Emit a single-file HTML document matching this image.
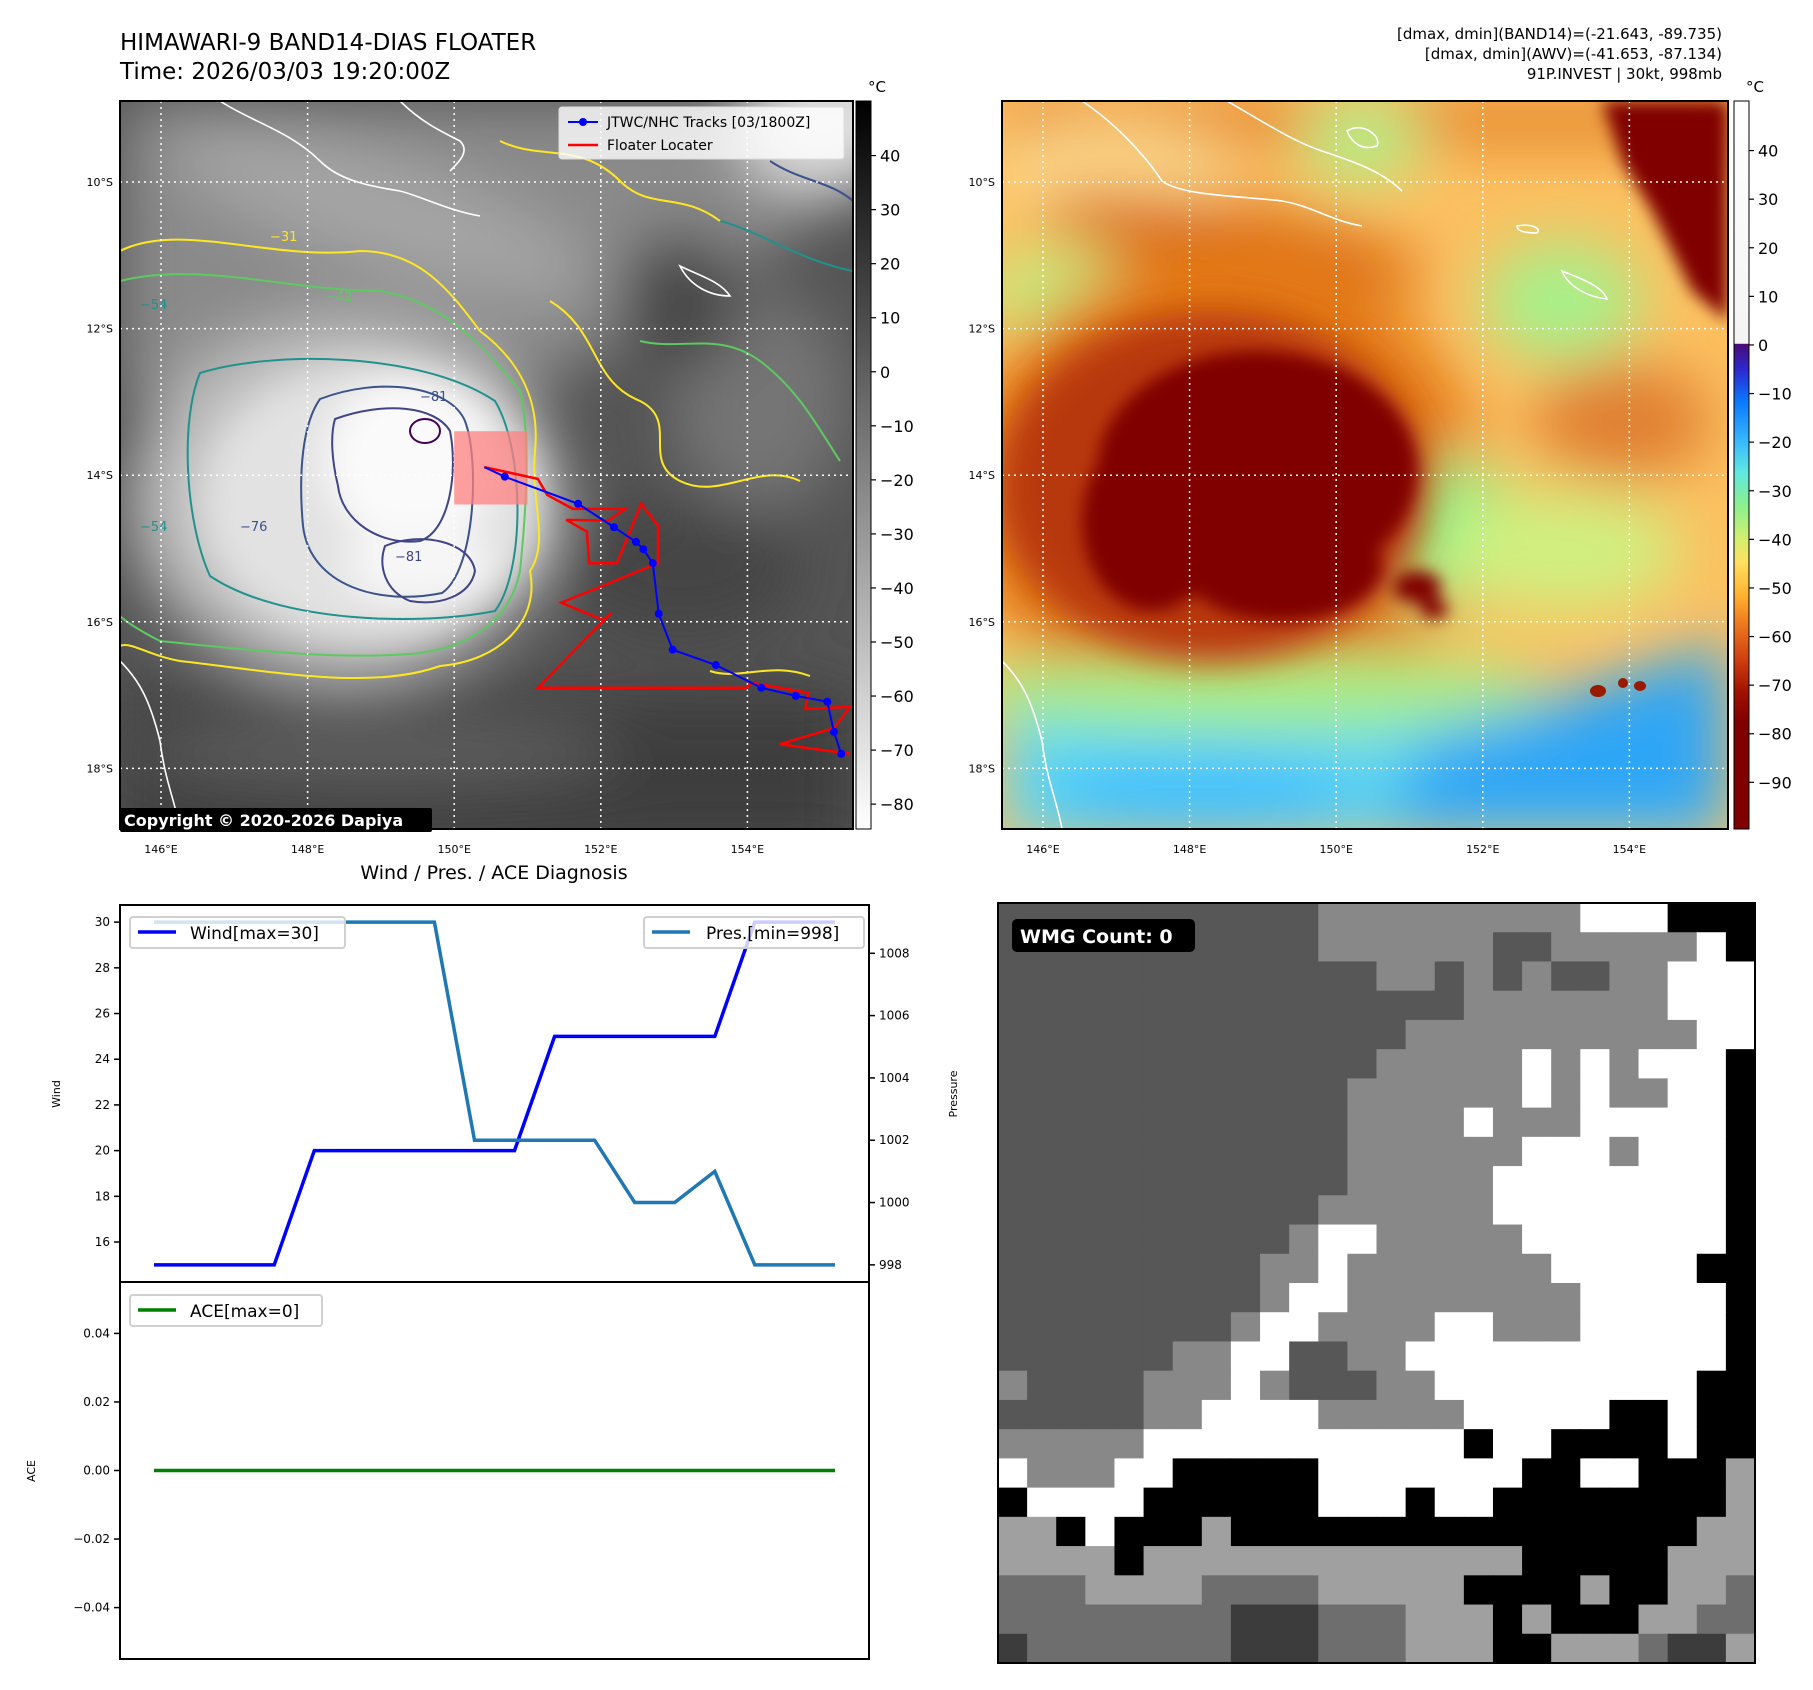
<!DOCTYPE html>
<html><head><meta charset="utf-8">
<style>
html,body{margin:0;padding:0;background:#fff;}
svg{display:block;font-family:"DejaVu Sans","Liberation Sans",sans-serif;}
</style></head>
<body>
<svg id="fig" width="1813" height="1690" viewBox="0 0 1813 1690" xmlns="http://www.w3.org/2000/svg">
<defs>
  <filter id="b30" x="-30%" y="-30%" width="160%" height="160%"><feGaussianBlur stdDeviation="30"/></filter>
  <filter id="b18" x="-30%" y="-30%" width="160%" height="160%"><feGaussianBlur stdDeviation="18"/></filter>
  <filter id="b8" x="-30%" y="-30%" width="160%" height="160%"><feGaussianBlur stdDeviation="8"/></filter>
  <clipPath id="clipL"><rect x="0" y="0" width="733" height="728"/></clipPath>
  <clipPath id="clipR"><rect x="0" y="0" width="726" height="728"/></clipPath>
  <linearGradient id="cbGray" x1="0" y1="0" x2="0" y2="1">
    <stop offset="0" stop-color="#000"/><stop offset="1" stop-color="#fff"/>
  </linearGradient>
  <linearGradient id="cbColor" x1="0" y1="0" x2="0" y2="1">
    <stop offset="0" stop-color="#ffffff"/>
    <stop offset="0.333" stop-color="#f4f4f4"/>
    <stop offset="0.334" stop-color="#4b0a78"/>
    <stop offset="0.37" stop-color="#2a2ad0"/>
    <stop offset="0.413" stop-color="#0a78ff"/>
    <stop offset="0.467" stop-color="#38b8ff"/>
    <stop offset="0.51" stop-color="#60e8e0"/>
    <stop offset="0.553" stop-color="#88f090"/>
    <stop offset="0.6" stop-color="#d0f070"/>
    <stop offset="0.633" stop-color="#ffe060"/>
    <stop offset="0.68" stop-color="#ffb030"/>
    <stop offset="0.713" stop-color="#f08020"/>
    <stop offset="0.767" stop-color="#d04010"/>
    <stop offset="0.813" stop-color="#a01000"/>
    <stop offset="0.853" stop-color="#800000"/>
    <stop offset="1" stop-color="#800000"/>
  </linearGradient>
</defs>

<text x="120" y="50" font-size="23">HIMAWARI-9 BAND14-DIAS FLOATER</text>
<text x="120" y="79" font-size="23">Time: 2026/03/03 19:20:00Z</text>
<g font-size="15" text-anchor="end">
  <text x="1722" y="39">[dmax, dmin](BAND14)=(-21.643, -89.735)</text>
  <text x="1722" y="59">[dmax, dmin](AWV)=(-41.653, -87.134)</text>
  <text x="1722" y="79">91P.INVEST | 30kt, 998mb</text>
</g>

<!-- LEFT MAP -->
<g id="mapL" transform="translate(120,101)">
  <g clip-path="url(#clipL)">
    <rect x="0" y="0" width="733" height="728" fill="#545454"/>
    <g filter="url(#b30)">
      <polygon points="0,0 733,0 733,90 620,170 430,280 0,300" fill="#8a8a8a"/>
      <ellipse cx="260" cy="110" rx="220" ry="55" fill="#a4a4a4" transform="rotate(18 260 110)"/>
      <ellipse cx="640" cy="300" rx="90" ry="110" fill="#757575"/>
      <ellipse cx="560" cy="200" rx="60" ry="70" fill="#474747"/>
      <ellipse cx="225" cy="400" rx="215" ry="180" fill="#c0c0c0"/>
      <rect x="0" y="590" width="733" height="160" fill="#3e3e3e"/>
      <ellipse cx="260" cy="650" rx="240" ry="35" fill="#5e5e5e"/>
      <ellipse cx="710" cy="20" rx="90" ry="70" fill="#e0e0e0"/>
      <ellipse cx="560" cy="470" rx="120" ry="70" fill="#444"/>
    </g>
    <g filter="url(#b18)">
      <ellipse cx="250" cy="400" rx="170" ry="140" fill="#e2e2e2"/>
      <ellipse cx="290" cy="360" rx="85" ry="85" fill="#fafafa"/>
      <ellipse cx="300" cy="465" rx="75" ry="40" fill="#f6f6f6"/>
    </g>
    <g fill="none" stroke-width="2" stroke-linejoin="round">
      <path d="M0,150 C60,120 150,160 240,150 C300,150 330,190 360,230 C400,260 420,300 415,350 C410,400 430,440 410,470 C420,520 380,560 320,565 C250,590 150,570 60,560 C30,555 10,540 0,545" stroke="#fde725"/>
      <path d="M0,180 C80,160 170,190 260,190 C320,200 360,240 400,290 C412,340 405,420 400,470 C390,520 350,545 300,552 C220,560 120,548 40,540 C20,530 5,520 0,515" stroke="#5ec962"/>
      <path d="M80,272 C150,250 300,250 375,300 C405,350 405,470 375,510 C300,525 160,522 90,475 C65,420 60,320 80,272Z" stroke="#21918c"/>
      <path d="M200,298 C260,275 330,285 345,320 C360,360 355,470 322,492 C260,505 190,485 183,425 C178,370 183,322 200,298Z" stroke="#3b528b"/>
      <path d="M215,318 C265,300 315,305 330,330 C338,370 330,430 300,440 C260,445 222,420 218,385 C212,360 210,335 215,318Z" stroke="#414487"/>
      <path d="M265,445 C300,430 350,440 355,470 C350,495 320,505 290,500 C265,490 258,465 265,445Z" stroke="#414487"/>
      <ellipse cx="305" cy="330" rx="15" ry="12" stroke="#440154"/>
      <path d="M430,200 C480,230 470,280 520,300 C560,320 520,360 560,380 C600,400 640,360 680,380" stroke="#fde725"/>
      <path d="M520,240 C560,250 600,230 640,260 C680,290 700,330 720,360" stroke="#5ec962"/>
      <path d="M600,120 C640,130 680,160 733,170" stroke="#21918c"/>
      <path d="M650,60 C680,80 710,80 733,100" stroke="#3b528b"/>
      <path d="M380,40 C420,60 460,40 500,80 C530,110 560,90 600,120" stroke="#fde725"/>
      <path d="M590,570 C620,580 650,560 690,575" stroke="#fde725"/>
    </g>
    <g font-size="13">
      <text x="20" y="208" fill="#21918c">−54</text>
      <text x="150" y="140" fill="#fde725">−31</text>
      <text x="205" y="200" fill="#5ec962">−42</text>
      <text x="300" y="300" fill="#3b528b">−81</text>
      <text x="275" y="460" fill="#414487">−81</text>
      <text x="120" y="430" fill="#3b528b">−76</text>
      <text x="20" y="430" fill="#21918c">−54</text>
    </g>
    <g fill="none" stroke="#fff" stroke-width="1.6">
      <path d="M0,560 C20,580 30,600 40,640 C45,680 55,700 60,728"/>
      <path d="M100,0 C130,20 170,30 200,60 C220,80 250,85 280,90 C300,95 330,110 360,115"/>
      <path d="M280,0 C300,20 320,30 340,40 C350,50 340,60 330,70"/>
      <path d="M560,165 C580,175 600,180 610,195 C590,195 570,185 560,165Z"/>
    </g>
    <g id="gridL" stroke="#fff" stroke-width="1.5" stroke-dasharray="2,4"></g>
    <rect id="floaterBox" fill="#ff8080" fill-opacity="0.75"/>
    <path id="redPath" fill="none" stroke="#ff0000" stroke-width="2.5" stroke-linejoin="miter"/>
    <path id="bluePath" fill="none" stroke="#0000ff" stroke-width="2"/>
    <g id="blueDots" fill="#0000ff"></g>
  </g>
  <rect x="0" y="0" width="733" height="728" fill="none" stroke="#000" stroke-width="2"/>
  <g>
    <rect x="439" y="6" width="285" height="52" rx="3" fill="#fff" fill-opacity="0.8" stroke="#ddd"/>
    <line x1="448" y1="21" x2="478" y2="21" stroke="#0000ff" stroke-width="2"/>
    <circle cx="463" cy="21" r="4" fill="#0000ff"/>
    <text x="487" y="26" font-size="14">JTWC/NHC Tracks [03/1800Z]</text>
    <line x1="448" y1="44" x2="478" y2="44" stroke="#ff0000" stroke-width="2.5"/>
    <text x="487" y="49" font-size="14">Floater Locater</text>
  </g>
  <g>
    <rect x="0" y="707" width="312" height="24" rx="2" fill="#000"/>
    <text x="4" y="725" font-size="16" font-weight="bold" fill="#fff">Copyright © 2020-2026 Dapiya</text>
  </g>
</g>
<g id="ticksL" font-size="11"></g>

<g>
  <rect x="856" y="101" width="15" height="728" fill="url(#cbGray)" stroke="#000" stroke-width="1"/>
  <text x="868" y="92" font-size="15">°C</text>
  <g id="cbTicksL" font-size="16"></g>
</g>

<!-- RIGHT MAP -->
<g id="mapR" transform="translate(1002,101)">
  <g clip-path="url(#clipR)">
    <rect x="0" y="0" width="726" height="728" fill="#fcc060"/>
    <g filter="url(#b30)">
      <rect x="0" y="0" width="726" height="40" fill="#e07a20"/>
      <ellipse cx="110" cy="70" rx="120" ry="45" fill="#ffe090"/>
      <ellipse cx="60" cy="190" rx="80" ry="40" fill="#c0f080"/>
      <ellipse cx="560" cy="200" rx="80" ry="60" fill="#a8f08a"/>
      <ellipse cx="360" cy="40" rx="60" ry="40" fill="#b0f088"/>
      <ellipse cx="620" cy="320" rx="90" ry="60" fill="#e08030"/>
      <ellipse cx="230" cy="140" rx="200" ry="40" fill="#dc6e18" transform="rotate(10 230 140)"/>
      <ellipse cx="220" cy="390" rx="260" ry="240" fill="#e47a18"/>
      <ellipse cx="450" cy="430" rx="70" ry="70" fill="#90f088"/>
      <ellipse cx="560" cy="450" rx="120" ry="60" fill="#d0f080"/>
      <rect x="0" y="600" width="726" height="140" fill="#60d8f0"/>
      <ellipse cx="250" cy="590" rx="300" ry="40" fill="#a8f080"/>
      <polygon points="420,640 726,540 726,728 380,728" fill="#2ea6f6"/>
      <ellipse cx="200" cy="690" rx="160" ry="40" fill="#40c0ff"/>
    </g>
    <g filter="url(#b18)">
      <ellipse cx="210" cy="385" rx="215" ry="175" fill="#b83808"/>
    </g>
    <g filter="url(#b8)">
      <ellipse cx="255" cy="370" rx="160" ry="120" fill="#800000"/>
      <ellipse cx="280" cy="465" rx="100" ry="55" fill="#800000"/>
      <ellipse cx="150" cy="420" rx="70" ry="90" fill="#800000"/>
      <polygon points="600,0 726,0 726,220 690,190 650,110 620,60" fill="#800000"/>
      <ellipse cx="415" cy="486" rx="24" ry="16" fill="#800000"/>
      <ellipse cx="432" cy="508" rx="14" ry="10" fill="#800000"/>
    </g>
    <g fill="#9a1a00">
      <ellipse cx="596" cy="590" rx="8" ry="6"/>
      <ellipse cx="621" cy="582" rx="5" ry="5"/>
      <ellipse cx="638" cy="585" rx="6" ry="5"/>
    </g>
    <g fill="none" stroke="#fff" stroke-width="1.6">
      <path d="M80,0 C110,20 140,50 160,80 C180,95 240,95 280,100 C310,105 330,120 360,125"/>
      <path d="M225,0 C260,20 290,40 320,50 C350,60 380,70 400,90"/>
      <path d="M345,30 C360,20 380,35 375,45 C360,50 350,42 345,30Z"/>
      <path d="M560,170 C580,178 600,185 605,198 C585,196 566,185 560,170Z"/>
      <path d="M515,125 C530,122 540,128 535,132 C522,132 515,130 515,125Z"/>
      <path d="M0,560 C20,580 30,600 40,640 C45,680 55,700 60,728"/>
    </g>
    <g id="gridR" stroke="#fff" stroke-width="1.5" stroke-dasharray="2,4"></g>
  </g>
  <rect x="0" y="0" width="726" height="728" fill="none" stroke="#000" stroke-width="2"/>
</g>
<g id="ticksR" font-size="11"></g>

<g>
  <rect x="1734" y="101" width="15" height="728" fill="url(#cbColor)" stroke="#000" stroke-width="1"/>
  <text x="1746" y="92" font-size="15">°C</text>
  <g id="cbTicksR" font-size="16"></g>
</g>

<text x="494" y="879" font-size="19" text-anchor="middle">Wind / Pres. / ACE Diagnosis</text>
<g id="windChart"></g>
<g id="aceChart"></g>

<g id="wmg"></g>
</svg>

<script>
const latTicks = [-10, -12, -14, -16, -18];
const lonTicks = [146, 148, 150, 152, 154];
const trackLon = [150.41,150.69,151.69,152.18,152.48,152.58,152.71,152.79,152.98,153.57,154.19,154.66,155.09,155.18,155.28];
const trackLat = [-13.89,-14.02,-14.39,-14.71,-14.91,-15.01,-15.20,-15.89,-16.38,-16.59,-16.90,-17.01,-17.09,-17.50,-17.80];
const locLon = [150.41,151.14,151.27,151.62,152.33,152.10,151.53,151.81,151.84,152.22,152.55,152.78,152.78,151.46,152.04,152.14,151.14,153.99,154.05,154.83,154.79,155.40,155.18,154.44,155.40];
const locLat = [-13.89,-14.05,-14.27,-14.46,-14.46,-14.62,-14.61,-14.77,-15.20,-15.20,-14.39,-14.69,-15.20,-15.74,-15.98,-15.88,-16.90,-16.90,-16.83,-16.97,-17.19,-17.16,-17.45,-17.67,-17.80];
const floaterLon = [150.0, 151.0];
const floaterLat = [-13.4, -14.4];
const cbTicksGray = [40,30,20,10,0,-10,-20,-30,-40,-50,-60,-70,-80];
const cbTicksColor = [40,30,20,10,0,-10,-20,-30,-40,-50,-60,-70,-80,-90];
const windVals = [15,15,15,15,20,20,20,20,20,20,25,25,25,25,25,30,30,30];
const presVals = [1009,1009,1009,1009,1009,1009,1009,1009,1002,1002,1002,1002,1000,1000,1001,998,998,998];
const aceVals = [0,0,0,0,0,0,0,0,0,0,0,0,0,0,0,0,0,0];
const windTicks = [16,18,20,22,24,26,28,30];
const presTicks = [998,1000,1002,1004,1006,1008];
const aceTicks = [0.04,0.02,0.00,-0.02,-0.04];
const wmgRows = [
"DDDDDDDDDDDMMMMMMMMMWWWKKK",
"DDDDDDDDDDDMMMMMMDDMMMMMWK",
"DDDDDDDDDDDDDMMDMDMDDMMWWW",
"DDDDDDDDDDDDDDDDMMMMMMMWWW",
"DDDDDDDDDDDDDDMMMMMMMMMMWW",
"DDDDDDDDDDDDDMMMMMWMWMWWWK",
"DDDDDDDDDDDDMMMMMMWMWMMWWK",
"DDDDDDDDDDDDMMMMWMMMWWWWWK",
"DDDDDDDDDDDDMMMMMMWWWMWWWK",
"DDDDDDDDDDDDMMMMMWWWWWWWWK",
"DDDDDDDDDDDMMMMMMWWWWWWWWK",
"DDDDDDDDDDMWWMMMMMWWWWWWWK",
"DDDDDDDDDMMWMMMMMMMWWWWWKK",
"DDDDDDDDDMWWMMMMMMMMWWWWWK",
"DDDDDDDDMWWMMMMWWMMMWWWWWK",
"DDDDDDMMWWDDMMWWWWWWWWWWWK",
"MDDDDMMMWMDDDMMWWWWWWWWWKK",
"DDDDDMMWWWWMMMMMWWWWWKKWKK",
"MMMMMWWWWWWWWWWWKWWKKKKWKK",
"WMMMWWKKKKKWWWWWWWKKWWKKKL",
"KWWWWKKKKKKWWWKWWKKKKKKKKL",
"LLKWKKKLKKKKKKKKKKKKKKKKLL",
"LLLLKLLLLLLLLLLLLLKKKKKLLL",
"GGGLLLLGGGGLLLLLKKKKLKKLLG",
"GGGGGGGGXXXGGGLLLKLKKKLLGG",
"XGGGGGGGXXXGGGLLLKKLLLGXXL"
];
const wmgColors = {D:'#575757', M:'#888888', W:'#ffffff', K:'#000000', L:'#a0a0a0', G:'#6e6e6e', X:'#3c3c3c'};

const NS = 'http://www.w3.org/2000/svg';
function mk(tag, attrs, parent){ const e=document.createElementNS(NS,tag); for(const k in attrs) e.setAttribute(k,attrs[k]); if(parent) parent.appendChild(e); return e; }
const PXDEG = 73.3;
function mx(lon){ return 41 + (lon-146)*PXDEG; }
function my(lat){ return 81 + (-10-lat)*PXDEG; }

function buildGrid(gid, w){
  const g=document.getElementById(gid);
  latTicks.forEach(lat=>{ const l=mk('line',{x1:0,x2:w,y1:my(lat),y2:my(lat)},g);
    
     });
  lonTicks.forEach(lon=>{ const l=mk('line',{x1:mx(lon),x2:mx(lon),y1:0,y2:728},g);
    
     });
}
buildGrid('gridL',733); buildGrid('gridR',726);
function buildTicks(tid, ox){
  const g=document.getElementById(tid);
  latTicks.forEach(lat=>{ const t=mk('text',{x:ox-7,y:101+my(lat)+4,'text-anchor':'end'},g);
    t.textContent=Math.abs(lat)+'°S';
    
     });
  lonTicks.forEach(lon=>{ const t=mk('text',{x:ox+mx(lon),y:853,'text-anchor':'middle'},g);
    t.textContent=lon+'°E';
    
     });
}
buildTicks('ticksL',120); buildTicks('ticksR',1002);

(function(){
  let d=''; trackLon.forEach((lo,i)=>{ d+=(i?'L':'M')+mx(lo).toFixed(1)+','+my(trackLat[i]).toFixed(1); });
  document.getElementById('bluePath').setAttribute('d',d);
  const dots=document.getElementById('blueDots');
  trackLon.forEach((lo,i)=>{ if(i===0) return; const c=mk('circle',{cx:mx(lo),cy:my(trackLat[i]),r:4},dots);
    
     });
  let r=''; locLon.forEach((lo,i)=>{ r+=(i?'L':'M')+mx(lo).toFixed(1)+','+my(locLat[i]).toFixed(1); });
  document.getElementById('redPath').setAttribute('d',r);
  const fb=document.getElementById('floaterBox');
  fb.setAttribute('x',mx(floaterLon[0])); fb.setAttribute('y',my(floaterLat[0]));
  fb.setAttribute('width',mx(floaterLon[1])-mx(floaterLon[0])); fb.setAttribute('height',my(floaterLat[1])-my(floaterLat[0]));
})();

function buildCb(gid, vals, vmax, vmin, x){
  const g=document.getElementById(gid);
  vals.forEach(v=>{ const y=101+(vmax-v)/(vmax-vmin)*728;
    mk('line',{x1:x,x2:x+5,y1:y,y2:y,stroke:'#000','stroke-width':1.2},g);
    const t=mk('text',{x:x+9,y:y+6},g); t.textContent=(v<0?'−'+Math.abs(v):''+v);
    
     });
}
buildCb('cbTicksL', cbTicksGray, 50.1, -84.6, 871);
buildCb('cbTicksR', cbTicksColor, 50.2, -99.6, 1749);

const AX={l:120,r:869,t:905,m:1282,b:1659};
const n=windVals.length;
function cx(i){ const lo=-0.05*(n-1), hi=(n-1)*1.05; return AX.l+(i-lo)/(hi-lo)*(AX.r-AX.l); }
function wy(v){ const lo=14.25, hi=30.75; return AX.m-(v-lo)/(hi-lo)*(AX.m-AX.t); }
function py(v){ const lo=997.45, hi=1009.55; return AX.m-(v-lo)/(hi-lo)*(AX.m-AX.t); }
function ay(v){ const lo=-0.055, hi=0.055; return AX.b-(v-lo)/(hi-lo)*(AX.b-AX.m); }
(function(){
  const g=document.getElementById('windChart');
  mk('rect',{x:AX.l,y:AX.t,width:AX.r-AX.l,height:AX.m-AX.t,fill:'#fff',stroke:'#000','stroke-width':2},g);
  let d=''; windVals.forEach((v,i)=>{ d+=(i?'L':'M')+cx(i).toFixed(1)+','+wy(v).toFixed(1); });
  const wl=mk('path',{d:d,fill:'none',stroke:'#0000ff','stroke-width':3.5},g);
  
  
  let p=''; presVals.forEach((v,i)=>{ p+=(i?'L':'M')+cx(i).toFixed(1)+','+py(v).toFixed(1); });
  const pl=mk('path',{d:p,fill:'none',stroke:'#1f77b4','stroke-width':3.5},g);
  
  
  windTicks.forEach(v=>{ const y=wy(v); mk('line',{x1:AX.l-6,x2:AX.l,y1:y,y2:y,stroke:'#000','stroke-width':1.5},g);
    const t=mk('text',{x:AX.l-10,y:y+4,'text-anchor':'end','font-size':12},g); t.textContent=v;
    
     });
  presTicks.forEach(v=>{ const y=py(v); mk('line',{x1:AX.r,x2:AX.r+6,y1:y,y2:y,stroke:'#000','stroke-width':1.5},g);
    const t=mk('text',{x:AX.r+10,y:y+4,'font-size':12},g); t.textContent=v;
    
     });
  const yl=mk('text',{x:0,y:0,'font-size':11,'text-anchor':'middle',transform:'translate(60,1094) rotate(-90)'},g); yl.textContent='Wind';
  
  
  const pl2=mk('text',{x:0,y:0,'font-size':11,'text-anchor':'middle',transform:'translate(957,1094) rotate(-90)'},g); pl2.textContent='Pressure';
  
  
  const lg1=mk('g',{},g);
  
  
  mk('rect',{x:130,y:917,width:215,height:31,rx:3,fill:'#fff','fill-opacity':0.8,stroke:'#d0d0d0','stroke-width':2},lg1);
  mk('line',{x1:138,x2:176,y1:932,y2:932,stroke:'#0000ff','stroke-width':3.5},lg1);
  const t1=mk('text',{x:190,y:939,'font-size':17},lg1); t1.textContent='Wind[max=30]';
  const lg2=mk('g',{},g);
  
  
  mk('rect',{x:644,y:917,width:220,height:31,rx:3,fill:'#fff','fill-opacity':0.8,stroke:'#d0d0d0','stroke-width':2},lg2);
  mk('line',{x1:652,x2:690,y1:932,y2:932,stroke:'#1f77b4','stroke-width':3.5},lg2);
  const t2=mk('text',{x:706,y:939,'font-size':17},lg2); t2.textContent='Pres.[min=998]';
})();

(function(){
  const g=document.getElementById('aceChart');
  mk('rect',{x:AX.l,y:AX.m,width:AX.r-AX.l,height:AX.b-AX.m,fill:'#fff',stroke:'#000','stroke-width':2},g);
  let d=''; aceVals.forEach((v,i)=>{ d+=(i?'L':'M')+cx(i).toFixed(1)+','+ay(v).toFixed(1); });
  const al=mk('path',{d:d,fill:'none',stroke:'#008000','stroke-width':3.5},g);
  
  
  aceTicks.forEach(v=>{ const y=ay(v); mk('line',{x1:AX.l-6,x2:AX.l,y1:y,y2:y,stroke:'#000','stroke-width':1.5},g);
    const t=mk('text',{x:AX.l-10,y:y+4,'text-anchor':'end','font-size':12},g); t.textContent=(v<0?'−'+Math.abs(v).toFixed(2):v.toFixed(2));
    
     });
  const yl=mk('text',{x:0,y:0,'font-size':11,'text-anchor':'middle',transform:'translate(35,1471) rotate(-90)'},g); yl.textContent='ACE';
  
  
  const lg=mk('g',{},g);
  
  
  mk('rect',{x:130,y:1295,width:192,height:31,rx:3,fill:'#fff','fill-opacity':0.8,stroke:'#d0d0d0','stroke-width':2},lg);
  mk('line',{x1:138,x2:176,y1:1310,y2:1310,stroke:'#008000','stroke-width':3.5},lg);
  const t=mk('text',{x:190,y:1317,'font-size':17},lg); t.textContent='ACE[max=0]';
})();

(function(){
  const g=document.getElementById('wmg');
  const X0=998, Y0=903, W=757, H=760;
  const rows=wmgRows.length, cols=wmgRows[0].length;
  const cw=W/cols, ch=H/rows;
  for(let r=0;r<rows;r++) for(let c=0;c<cols;c++){
    const cell=mk('rect',{x:(X0+c*cw).toFixed(2),y:(Y0+r*ch).toFixed(2),width:(cw+0.6).toFixed(2),height:(ch+0.6).toFixed(2),fill:wmgColors[wmgRows[r][c]]},g);
    
    
  }
  mk('rect',{x:X0,y:Y0,width:W,height:H,fill:'none',stroke:'#000','stroke-width':2},g);
  const lb=mk('g',{},g);
  
  
  mk('rect',{x:1012,y:919,width:183,height:33,rx:5,fill:'#000'},lb);
  const t=mk('text',{x:1020,y:943,'font-size':19,'font-weight':'bold',fill:'#fff'},lb); t.textContent='WMG Count: 0';
})();
</script>
</body></html>
